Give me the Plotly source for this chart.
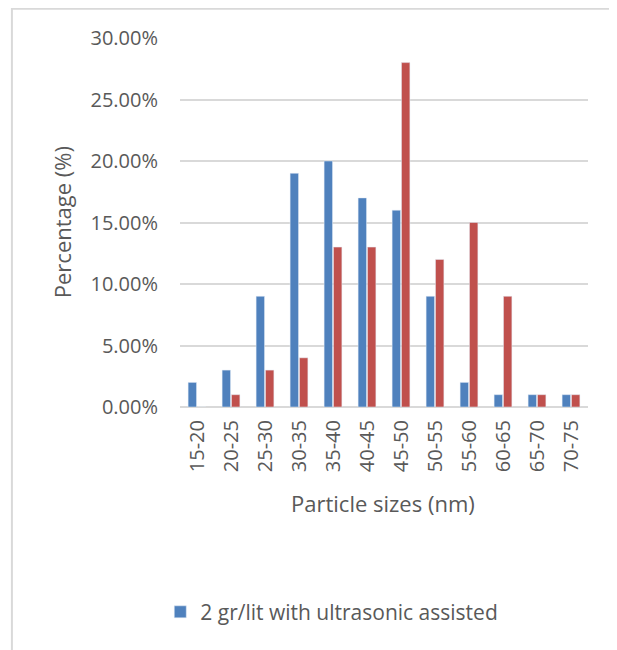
import plotly.graph_objects as go

categories = ["15-20", "20-25", "25-30", "30-35", "35-40", "40-45",
              "45-50", "50-55", "55-60", "60-65", "65-70", "70-75"]
blue_values = [0.02, 0.03, 0.09, 0.19, 0.20, 0.17, 0.16, 0.09, 0.02, 0.01, 0.01, 0.01]
red_values = [0.00, 0.01, 0.03, 0.04, 0.13, 0.13, 0.28, 0.12, 0.15, 0.09, 0.01, 0.01]
blue_name = "2 gr/lit with ultrasonic assisted"
red_name = "series 2"
y_ticks = [0, 0.05, 0.10, 0.15, 0.20, 0.25, 0.30]

FONT = "Open Sans"
GREY = "#595959"

fig = go.Figure()
fig.add_trace(go.Bar(x=categories, y=blue_values, name=blue_name,
                     marker=dict(color="#4f81bd"), showlegend=True))
fig.add_trace(go.Bar(x=categories, y=red_values, name=red_name,
                     marker=dict(color="#c0504d"), showlegend=False))

fig.update_layout(
    width=609, height=642,
    margin=dict(l=172, r=29, t=30, b=243),
    paper_bgcolor="white", plot_bgcolor="white",
    font=dict(family=FONT, color=GREY, size=20),
    barmode="group", bargap=0.45, bargroupgap=0.1,
    showlegend=True,
    legend=dict(orientation="h", x=0.372, xanchor="center", y=-0.556, yanchor="middle",
                itemwidth=30, font=dict(size=21, color=GREY, family=FONT)),
    xaxis=dict(type="category", tickangle=-90, showgrid=False, showline=False,
               ticks="", ticklabelstandoff=8, tickfont=dict(size=20)),
    yaxis=dict(range=[0, 0.30], tickvals=y_ticks, tickformat=".2%",
               showgrid=True, gridcolor="#d9d9d9", gridwidth=1.5,
               zeroline=True, zerolinecolor="#d9d9d9", zerolinewidth=2,
               showline=False, ticks="", ticklabelstandoff=21, tickfont=dict(size=20)),
    annotations=[
        dict(text="Percentage (%)", xref="paper", yref="paper", x=-0.289, y=0.501,
             textangle=-90, showarrow=False, xanchor="center", yanchor="middle",
             font=dict(size=22, color=GREY, family=FONT)),
        dict(text="Particle sizes (nm)", xref="paper", yref="paper", x=0.4975, y=-0.261,
             showarrow=False, xanchor="center", yanchor="middle",
             font=dict(size=22, color=GREY, family=FONT)),
    ],
    shapes=[dict(type="rect", xref="paper", yref="paper", x0=-0.412, x1=1.066,
                 y0=-0.9, y1=1.079, line=dict(color="#d9d9d9", width=2),
                 fillcolor="rgba(0,0,0,0)", layer="below")],
)

fig.write_html("out.html")
